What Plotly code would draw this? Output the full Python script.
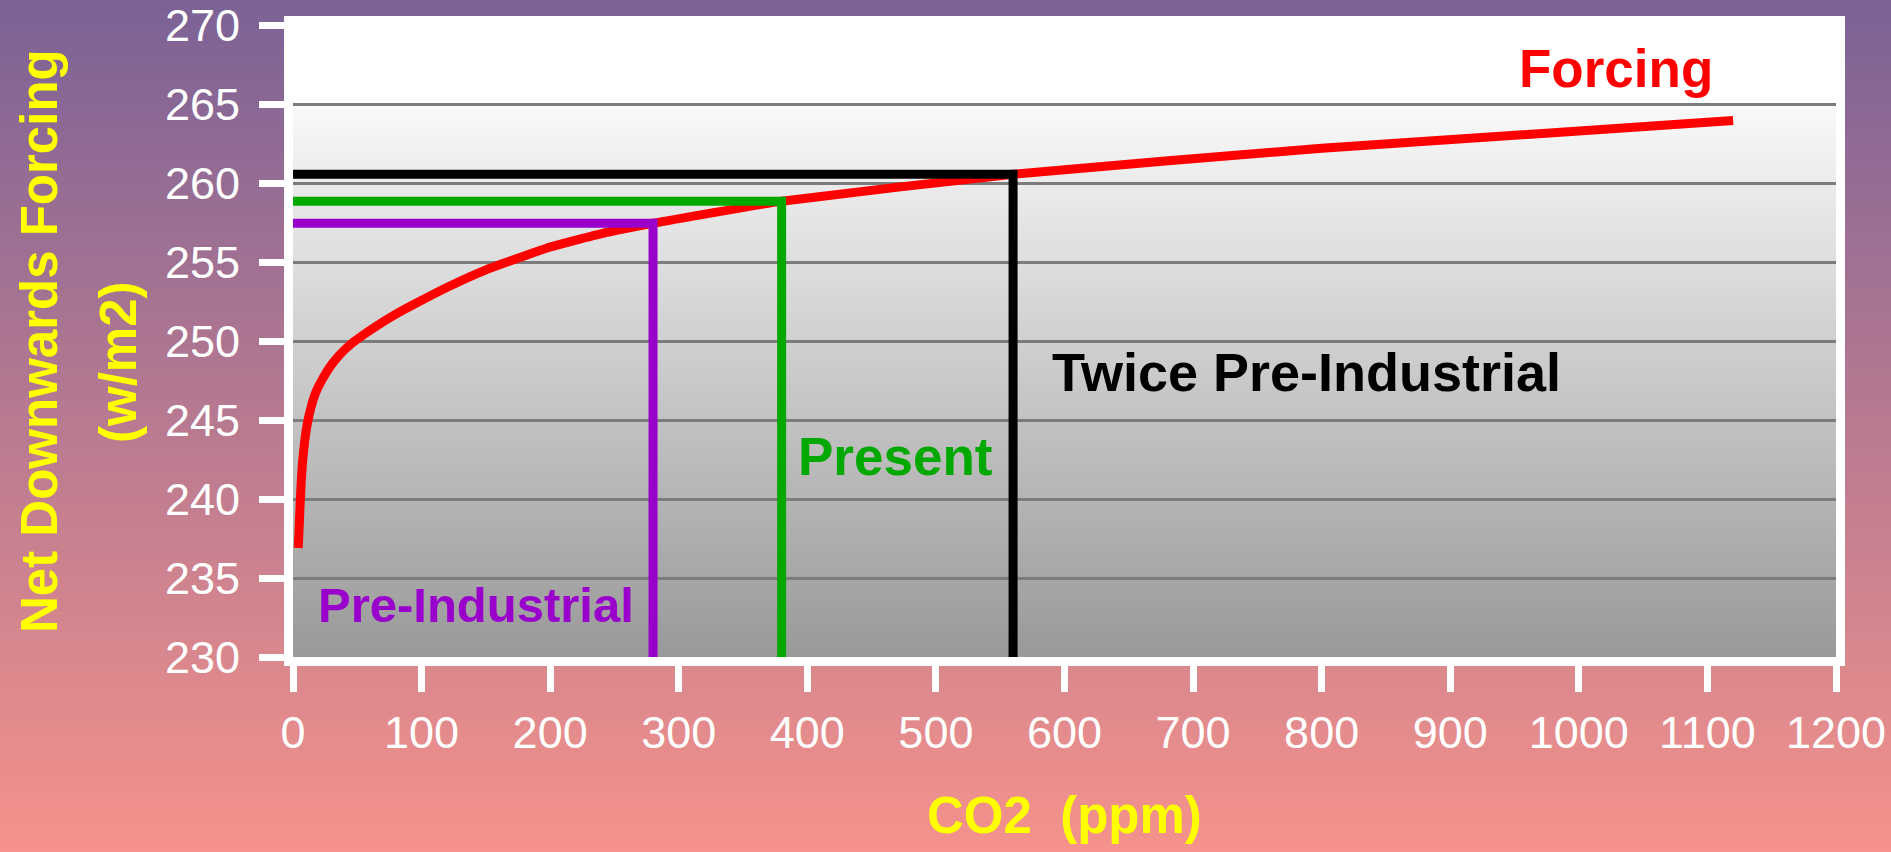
import plotly.graph_objects as go

# ---------------- data ----------------
co2 = [4.1, 4.7, 5.5, 6.5, 7.5, 9, 11, 14, 18, 23, 29, 36, 45, 55, 65, 79,
       96, 120, 150, 200, 240, 280, 380, 560, 800, 1120]
forcing = [236.9, 238.0, 239.6, 241.2, 242.4, 243.6, 244.7, 245.8, 246.8,
           247.6, 248.4, 249.1, 249.8, 250.4, 250.95, 251.65, 252.4, 253.4,
           254.5, 255.95, 256.8, 257.45, 258.85, 260.55, 262.2, 263.95]

marker_names = ["Pre-Industrial", "Present", "Twice Pre-Industrial"]
marker_co2 = [280, 380, 560]
marker_forcing = [257.45, 258.85, 260.55]
marker_colors = ["#9900cc", "#00a800", "#000000"]

x_ticks = list(range(0, 1201, 100))
y_ticks = list(range(230, 271, 5))

# ---------------- figure geometry ----------------
W, H = 1891, 852
ML, MR, MT, MB = 293, 55, 25, 195
PW, PH = W - ML - MR, H - MT - MB

NARROW = "Liberation Sans Narrow, Arial Narrow, Liberation Sans, Arial, sans-serif"
BOLD = "Liberation Sans, Arial, Helvetica, sans-serif"

fig = go.Figure()

# forcing curve
fig.add_trace(go.Scatter(x=co2, y=forcing, mode="lines",
                         line=dict(color="#ff0000", width=9, shape="spline", smoothing=0.4),
                         hoverinfo="skip", showlegend=False))

# marker L-lines
for name, cx, fy, col in zip(marker_names, marker_co2, marker_forcing, marker_colors):
    fig.add_trace(go.Scatter(x=[0, cx, cx], y=[fy, fy, y_ticks[0]], mode="lines",
                             line=dict(color=col, width=9),
                             hoverinfo="skip", showlegend=False, name=name))

shapes = []
# page background gradient (paper coordinates)
top = (123, 98, 150)
bot = (245, 146, 139)
n = 213
for i in range(n):
    f = (i + 0.5) / n
    c = tuple(round(top[k] + (bot[k] - top[k]) * f) for k in range(3))
    py0 = i * H / n - (1 if i == 0 else 0)
    py1 = (i + 1) * H / n + 1
    y0 = (H - MB - py1) / PH
    y1 = (H - MB - py0) / PH
    shapes.append(dict(type="rect", xref="paper", yref="paper",
                       x0=-ML / PW - 0.01, x1=(W - ML) / PW + 0.01, y0=y0, y1=y1,
                       fillcolor="rgb(%d,%d,%d)" % c, line=dict(width=0), layer="below"))

# plot area: white top band, then grey gradient
shapes.append(dict(type="rect", xref="x", yref="y", x0=0, x1=1200, y0=264.9, y1=270,
                   fillcolor="#ffffff", line=dict(width=0), layer="below"))
g_top, g_bot = 249, 153
m = 140
for i in range(m):
    y0 = 230 + 35 * i / m
    y1 = 230 + 35 * (i + 1) / m + 0.08
    f = (i + 0.5) / m
    g = round(g_bot + (g_top - g_bot) * f)
    shapes.append(dict(type="rect", xref="x", yref="y", x0=0, x1=1200, y0=y0, y1=min(y1, 265),
                       fillcolor="rgb(%d,%d,%d)" % (g, g, g), line=dict(width=0), layer="below"))

annotations = [
    dict(x=1029, y=267.26, text="Forcing", font=dict(color="#ff0000", size=53, family=BOLD, weight="bold")),
    dict(x=788, y=248.06, text="Twice Pre-Industrial", font=dict(color="#000000", size=54, family=BOLD, weight="bold")),
    dict(x=468.5, y=242.66, text="Present", font=dict(color="#00a800", size=53, family=BOLD, weight="bold")),
    dict(x=142.7, y=233.26, text="Pre-Industrial", font=dict(color="#9900cc", size=49, family=BOLD, weight="bold")),
]
for a in annotations:
    a.update(xref="x", yref="y", showarrow=False, xanchor="center", yanchor="middle")

# axis titles
title_font = dict(color="#ffff00", size=51, family=NARROW, weight="bold")
annotations.append(dict(xref="paper", yref="paper", x=(39 - ML) / PW, y=(H - MB - 341) / PH,
                        text="Net Downwards Forcing", textangle=-90, showarrow=False,
                        xanchor="center", yanchor="middle", font=title_font))
annotations.append(dict(xref="paper", yref="paper", x=(118 - ML) / PW, y=(H - MB - 362) / PH,
                        text="(w/m2)", textangle=-90, showarrow=False,
                        xanchor="center", yanchor="middle", font=title_font))
annotations.append(dict(xref="paper", yref="paper", x=0.5, y=(H - MB - 815) / PH,
                        text="CO2\u00a0 (ppm)", showarrow=False,
                        xanchor="center", yanchor="middle", font=title_font))

tickfont = dict(color="#ffffff", size=45, family=NARROW)
axis_common = dict(showline=True, linecolor="#ffffff", linewidth=9, mirror=True,
                   ticks="outside", tickwidth=7, tickcolor="#ffffff",
                   tickfont=tickfont, zeroline=False, fixedrange=True,
                   ticklabeloverflow="allow", automargin=False)

fig.update_layout(
    width=W, height=H, autosize=False,
    margin=dict(l=ML, r=MR, t=MT, b=MB, pad=0, autoexpand=False),
    paper_bgcolor="rgb(184,122,145)", plot_bgcolor="#ffffff",
    shapes=shapes, annotations=annotations, showlegend=False,
    xaxis=dict(range=[0, 1200], tickvals=x_ticks, ticktext=[str(v) for v in x_ticks],
               showgrid=False, ticklen=26, ticklabelstandoff=2, **axis_common),
    yaxis=dict(range=[230, 270], tickvals=y_ticks, ticktext=[str(v) for v in y_ticks],
               showgrid=True, gridcolor="#7c7c7c", gridwidth=3,
               ticklen=25, ticklabelstandoff=10, **axis_common),
)

fig.write_html("out.html")
